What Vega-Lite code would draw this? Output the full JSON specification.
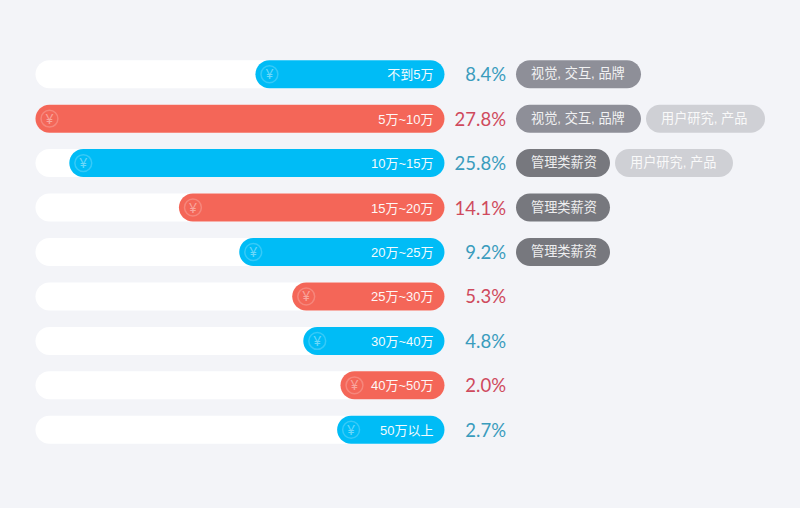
{
  "$schema": "https://vega.github.io/schema/vega-lite/v6.json",
  "width": 800,
  "height": 508,
  "padding": 0,
  "autosize": {"type": "fit", "contains": "padding"},
  "background": "#f3f4f8",
  "datasets": {
    "bands": [
      {"range": "不到5万", "share": 8.4, "label": "8.4%", "barLength": 12.85, "tone": "blue"},
      {"range": "5万~10万", "share": 27.8, "label": "27.8%", "barLength": 27.8, "tone": "red"},
      {"range": "10万~15万", "share": 25.8, "label": "25.8%", "barLength": 25.5, "tone": "blue"},
      {"range": "15万~20万", "share": 14.1, "label": "14.1%", "barLength": 18.05, "tone": "red"},
      {"range": "20万~25万", "share": 9.2, "label": "9.2%", "barLength": 13.95, "tone": "blue"},
      {"range": "25万~30万", "share": 5.3, "label": "5.3%", "barLength": 10.35, "tone": "red"},
      {"range": "30万~40万", "share": 4.8, "label": "4.8%", "barLength": 9.6, "tone": "blue"},
      {"range": "40万~50万", "share": 2.0, "label": "2.0%", "barLength": 7.07, "tone": "red"},
      {"range": "50万以上", "share": 2.7, "label": "2.7%", "barLength": 7.3, "tone": "blue"}
    ],
    "tags": [
      {"range": "不到5万", "tag": "视觉, 交互, 品牌", "from": 0, "to": 125, "kind": "design"},
      {"range": "5万~10万", "tag": "视觉, 交互, 品牌", "from": 0, "to": 125, "kind": "design"},
      {"range": "5万~10万", "tag": "用户研究, 产品", "from": 130, "to": 249, "kind": "research"},
      {"range": "10万~15万", "tag": "管理类薪资", "from": 0, "to": 94, "kind": "manage"},
      {"range": "10万~15万", "tag": "用户研究, 产品", "from": 99, "to": 217, "kind": "research"},
      {"range": "15万~20万", "tag": "管理类薪资", "from": 0, "to": 94, "kind": "manage"},
      {"range": "20万~25万", "tag": "管理类薪资", "from": 0, "to": 94, "kind": "manage"}
    ]
  },
  "config": {"view": {"stroke": null}, "font": "Liberation Sans, Noto Sans CJK SC"},
  "resolve": {"scale": {"x": "independent", "color": "independent"}},
  "encoding": {
    "y": {
      "field": "range",
      "type": "nominal",
      "axis": null,
      "sort": null,
      "scale": {
        "domain": ["不到5万", "5万~10万", "10万~15万", "15万~20万", "20万~25万", "25万~30万", "30万~40万", "40万~50万", "50万以上"],
        "range": [52, 452],
        "paddingInner": 0.37,
        "paddingOuter": 0.185
      }
    }
  },
  "layer": [
    {
      "data": {"name": "bands"},
      "resolve": {"scale": {"color": "independent"}},
      "encoding": {
        "x": {"type": "quantitative", "axis": null, "scale": {"domain": [30.21, -24.16], "range": [0, 800], "nice": false, "zero": false}}
      },
      "layer": [
        {
          "mark": {"type": "bar", "cornerRadius": 14, "color": "#ffffff"},
          "encoding": {"x": {"datum": 27.8, "type": "quantitative"}, "x2": {"datum": 0}}
        },
        {
          "mark": {"type": "bar", "cornerRadius": 14},
          "encoding": {
            "x": {"field": "barLength", "type": "quantitative"},
            "x2": {"datum": 0},
            "color": {"field": "tone", "type": "nominal", "legend": null, "scale": {"domain": ["blue", "red"], "range": ["#00bcf6", "#f46658"]}}
          }
        },
        {
          "mark": {"type": "point", "shape": "circle", "size": 285, "filled": false, "stroke": "#ffffff", "strokeOpacity": 0.3, "strokeWidth": 1.5, "xOffset": 14},
          "encoding": {"x": {"field": "barLength", "type": "quantitative"}}
        },
        {
          "mark": {"type": "text", "text": "¥", "color": "#ffffff", "opacity": 0.42, "fontSize": 14, "dx": 14, "dy": 1, "align": "center", "baseline": "middle", "font": "Noto Sans"},
          "encoding": {"x": {"field": "barLength", "type": "quantitative"}}
        },
        {
          "mark": {"type": "text", "color": "#ffffff", "opacity": 0.95, "fontSize": 13, "dx": -11, "dy": 1, "align": "right", "baseline": "middle"},
          "encoding": {"x": {"datum": 0, "type": "quantitative"}, "text": {"field": "range"}}
        },
        {
          "mark": {"type": "text", "fontSize": 18.5, "font": "Lato", "dx": 61.5, "dy": 1, "align": "right", "baseline": "middle"},
          "encoding": {
            "x": {"datum": 0, "type": "quantitative"},
            "text": {"field": "label"},
            "color": {"field": "tone", "type": "nominal", "legend": null, "scale": {"domain": ["blue", "red"], "range": ["#3a9cbd", "#cf4a5d"]}}
          }
        }
      ]
    },
    {
      "data": {"name": "tags"},
      "encoding": {
        "x": {"type": "quantitative", "axis": null, "scale": {"domain": [-516, 284], "range": [0, 800], "nice": false, "zero": false}}
      },
      "layer": [
        {
          "mark": {"type": "bar", "cornerRadius": 14},
          "encoding": {
            "x": {"field": "from", "type": "quantitative"},
            "x2": {"field": "to"},
            "color": {"field": "kind", "type": "nominal", "legend": null, "scale": {"domain": ["design", "manage", "research"], "range": ["#8e8f98", "#77787e", "#cfd0d5"]}}
          }
        },
        {
          "mark": {"type": "text", "color": "#ffffff", "opacity": 0.88, "fontSize": 13.2, "dx": 15, "align": "left", "baseline": "middle"},
          "encoding": {"x": {"field": "from", "type": "quantitative"}, "text": {"field": "tag"}}
        }
      ]
    }
  ]
}
